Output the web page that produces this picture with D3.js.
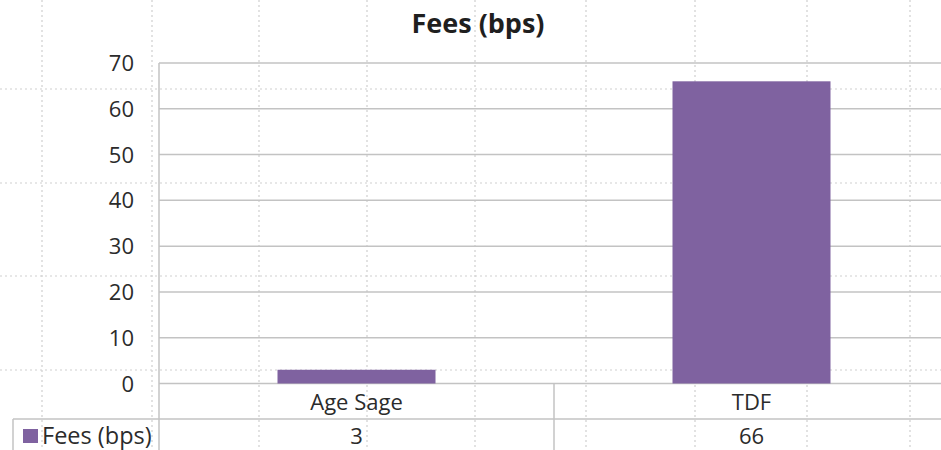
<!DOCTYPE html>
<html lang="en">
<head>
    <meta charset="UTF-8">
    <title>Fees (bps)</title>
    <script src="https://d3js.org/d3.v7.min.js"></script>
    <style>
        body { margin: 0; background: #fff; }
        svg text { font-family: "Open Sans", Lato, sans-serif; fill: #2b2b2b; }
    </style>
</head>
<body>
    <svg width="941" height="450"></svg>
    <script>
        // Data
        const categories = ["Age Sage", "TDF"];
        const fees = [3, 66];
        const seriesName = "Fees (bps)";
        const yTicks = [0, 10, 20, 30, 40, 50, 60, 70];

        const svg = d3.select("svg");

        // Plot geometry (plot runs off the right edge like the screenshot)
        const plot = {left: 159, right: 949, top: 63, bottom: 383.5};
        const tableRow = 419;

        // Spreadsheet cell grid showing through behind the chart
        const sheetCols = [42, 152, 259, 367, 475, 586, 695, 807, 910];
        const sheetRows = [89, 183, 276, 370];
        const sheet = svg.append("g")
            .attr("stroke", "#cfcfcf")
            .attr("stroke-width", 1.2)
            .attr("stroke-dasharray", "2,3");
        sheet.selectAll(".col").data(sheetCols).join("line")
            .attr("x1", d => d).attr("x2", d => d)
            .attr("y1", 0).attr("y2", 450);
        sheet.selectAll(".row").data(sheetRows).join("line")
            .attr("x1", 0).attr("x2", 941)
            .attr("y1", d => d).attr("y2", d => d);

        const x = d3.scaleBand()
            .domain(categories)
            .range([plot.left, plot.right])
            .padding(0);

        const y = d3.scaleLinear()
            .domain([0, 70])
            .range([plot.bottom, plot.top]);

        // Horizontal gridlines
        svg.append("g")
            .selectAll("line")
            .data(yTicks)
            .join("line")
            .attr("x1", plot.left).attr("x2", 941)
            .attr("y1", d => y(d)).attr("y2", d => y(d))
            .attr("stroke", "#c3c3c3")
            .attr("stroke-width", 1.5);

        // Bars
        const barW = x.bandwidth() * 0.4;
        svg.append("g")
            .selectAll("rect")
            .data(fees)
            .join("rect")
            .attr("x", (d, i) => x(categories[i]) + (x.bandwidth() - barW) / 2)
            .attr("y", d => y(d))
            .attr("width", barW)
            .attr("height", d => y(0) - y(d))
            .attr("fill", "#7f62a0");

        // Y axis labels
        svg.append("g")
            .selectAll("text")
            .data(yTicks)
            .join("text")
            .attr("x", 134)
            .attr("y", d => y(d) + 8)
            .attr("text-anchor", "end")
            .attr("font-size", 22)
            .text(d => d);

        // Data table lines
        const tbl = svg.append("g")
            .attr("stroke", "#c3c3c3")
            .attr("stroke-width", 1.5)
            .attr("fill", "none");
        // left axis line through the table
        tbl.append("line").attr("x1", plot.left).attr("x2", plot.left)
            .attr("y1", plot.top).attr("y2", 450);
        // row separator
        tbl.append("line").attr("x1", 13).attr("x2", 941)
            .attr("y1", tableRow).attr("y2", tableRow);
        // legend cell left edge
        tbl.append("line").attr("x1", 13).attr("x2", 13)
            .attr("y1", tableRow).attr("y2", 450);
        // category dividers
        tbl.selectAll(".div").data(categories.slice(1)).join("line")
            .attr("x1", d => x(d)).attr("x2", d => x(d))
            .attr("y1", plot.bottom).attr("y2", 450);

        // Category labels
        svg.append("g")
            .selectAll("text")
            .data(categories)
            .join("text")
            .attr("x", d => x(d) + x.bandwidth() / 2)
            .attr("y", 410)
            .attr("text-anchor", "middle")
            .attr("font-size", 22)
            .text(d => d);

        // Values row
        svg.append("g")
            .selectAll("text")
            .data(fees)
            .join("text")
            .attr("x", (d, i) => x(categories[i]) + x.bandwidth() / 2)
            .attr("y", 444)
            .attr("text-anchor", "middle")
            .attr("font-size", 22)
            .text(d => d);

        // Legend key in the table
        svg.append("rect")
            .attr("x", 23).attr("y", 429)
            .attr("width", 15).attr("height", 14)
            .attr("fill", "#7f62a0");
        svg.append("text")
            .attr("x", 42).attr("y", 444)
            .attr("font-size", 23.5)
            .text(seriesName);

        // Title
        svg.append("text")
            .attr("x", 478)
            .attr("y", 33)
            .attr("text-anchor", "middle")
            .attr("font-size", 27)
            .attr("font-weight", "bold")
            .style("fill", "#1f1f1f")
            .text(seriesName);
    </script>
</body>
</html>
